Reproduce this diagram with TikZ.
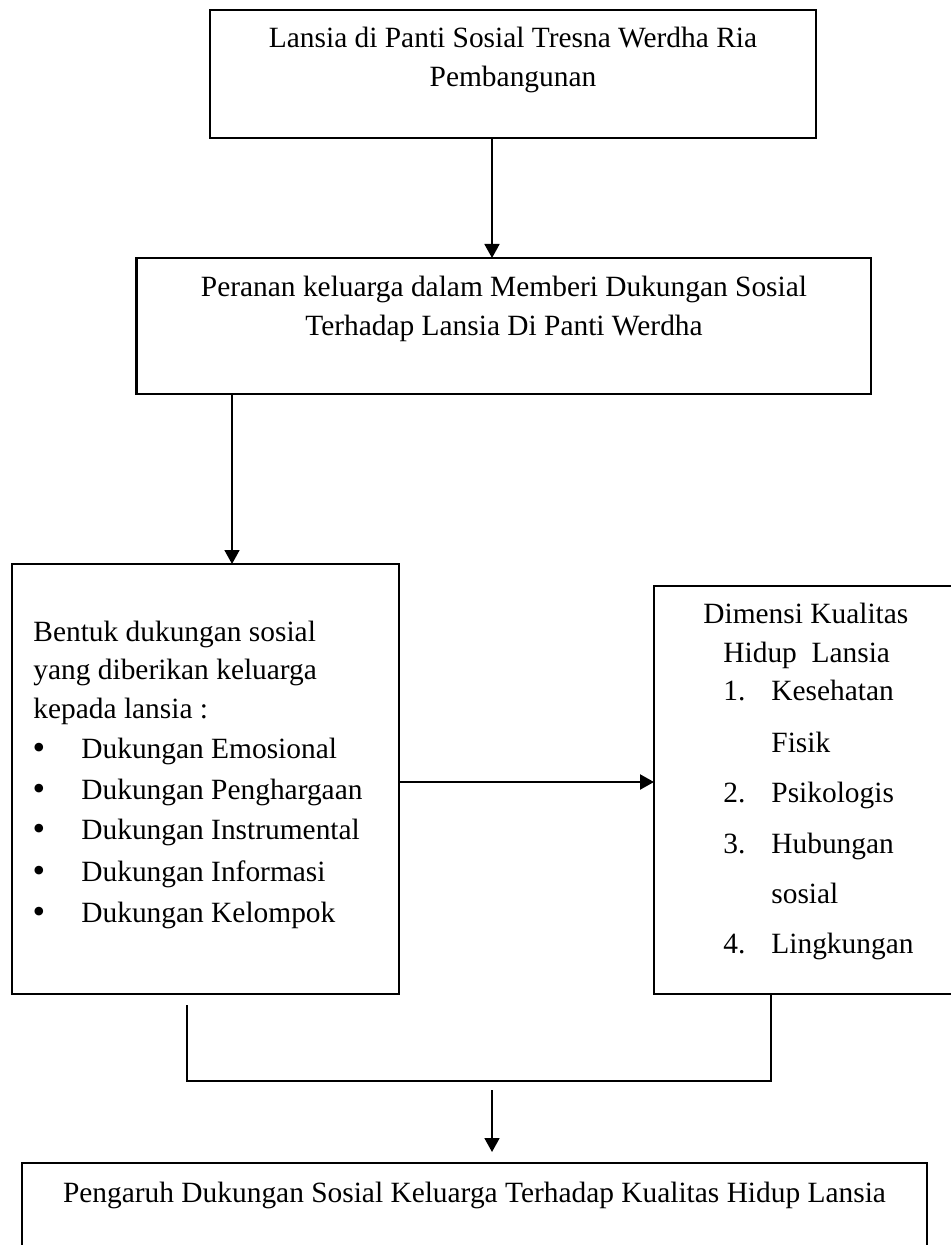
\documentclass[tikz,border=0pt]{standalone}
\usepackage{fontspec}
\setmainfont{Liberation Serif}
\usetikzlibrary{arrows.meta}
\begin{document}
\begin{tikzpicture}[x=0.5pt,y=-0.5pt,
  box/.style={draw, line width=1.1pt, inner sep=0pt, outer sep=0pt, anchor=center},
  conn/.style={line width=0.9pt},
  arr/.style={conn, -{Triangle[length=7pt,width=7.5pt]}},
  txt/.style={inner sep=0pt, anchor=base, font=\fontsize{14.7}{20}\selectfont},
  ltxt/.style={txt, anchor=base west},
  bul/.style={inner sep=0pt, anchor=center, font=\fontsize{18}{18}\selectfont}]
\useasboundingbox (0,0) rectangle (951,1245);
\clip (0,0) rectangle (951,1245);
\fill[white] (0,0) rectangle (951,1245);

% boxes
\node[box, minimum width=303pt, minimum height=64pt] (b1) at (513,74) {};
\node[box, minimum width=367.25pt, minimum height=68pt] (b2) at (503.75,326) {};
\node[box, minimum width=193.5pt, minimum height=215pt] (b3) at (205.5,779) {};
\node[box, minimum width=168pt, minimum height=204pt] (b4) at (822,790) {};
\node[box, minimum width=452.5pt, minimum height=68.5pt] (b5) at (474.5,1231.5) {};

% texts box 1
\node[txt] (t1a) at (513,48) {Lansia di Panti Sosial Tresna Werdha Ria};
\node[txt] (t1b) at (513,87) {Pembangunan};
% box 2
\node[txt] (t2a) at (504,297) {Peranan keluarga dalam Memberi Dukungan Sosial};
\node[txt] (t2b) at (504,336) {Terhadap Lansia Di Panti Werdha};
% box 3
\node[ltxt] (t3a) at (33,641) {Bentuk dukungan sosial};
\node[ltxt] (t3b) at (33,679) {yang diberikan keluarga};
\node[ltxt] (t3c) at (33,718) {kepada lansia :};
\node[bul] (u1) at (39,751) {•};
\node[bul] (u2) at (39,792) {•};
\node[bul] (u3) at (39,832) {•};
\node[bul] (u4) at (39,874) {•};
\node[bul] (u5) at (39,915) {•};
\node[ltxt] (i1) at (81,758) {Dukungan Emosional};
\node[ltxt] (i2) at (81,799) {Dukungan Penghargaan};
\node[ltxt] (i3) at (81,839) {Dukungan Instrumental};
\node[ltxt] (i4) at (81,881) {Dukungan Informasi};
\node[ltxt] (i5) at (81,922) {Dukungan Kelompok};
% box 4
\node[ltxt] (t4a) at (703,623) {Dimensi Kualitas};
\node[ltxt] (t4b) at (723,662) {Hidup\ \ Lansia};
\node[ltxt] (n1) at (723,700) {1.};
\node[ltxt] (d1) at (771,700) {Kesehatan};
\node[ltxt] (d1b) at (771,752) {Fisik};
\node[ltxt] (n2) at (723,802) {2.};
\node[ltxt] (d2) at (771,802) {Psikologis};
\node[ltxt] (n3) at (723,853) {3.};
\node[ltxt] (d3) at (771,853) {Hubungan};
\node[ltxt] (d3b) at (771,903) {sosial};
\node[ltxt] (n4) at (723,953) {4.};
\node[ltxt] (d4) at (771,953) {Lingkungan};
% box 5
\node[txt] (t5) at (474.5,1202) {Pengaruh Dukungan Sosial Keluarga Terhadap Kualitas Hidup Lansia};

% connectors
\coordinate (x1) at (492,0);
\coordinate (x2) at (232,0);
\coordinate (y3) at (0,782);
\draw[arr] (b1.south -| x1) -- (b2.north -| x1);
\draw[arr] (b2.south -| x2) -- (b3.north -| x2);
\draw[arr, line width=1.1pt] (b3.east |- y3) -- (b4.west |- y3);

\coordinate (bl) at (187,1005);
\coordinate (jr) at (771,1081);
\draw[conn] (bl) |- (jr) -- (b4.south -| jr);

\coordinate (ds) at (492,1090);
\coordinate (de) at (492,1152);
\draw[arr] (ds) -- (de);
\end{tikzpicture}
\end{document}
